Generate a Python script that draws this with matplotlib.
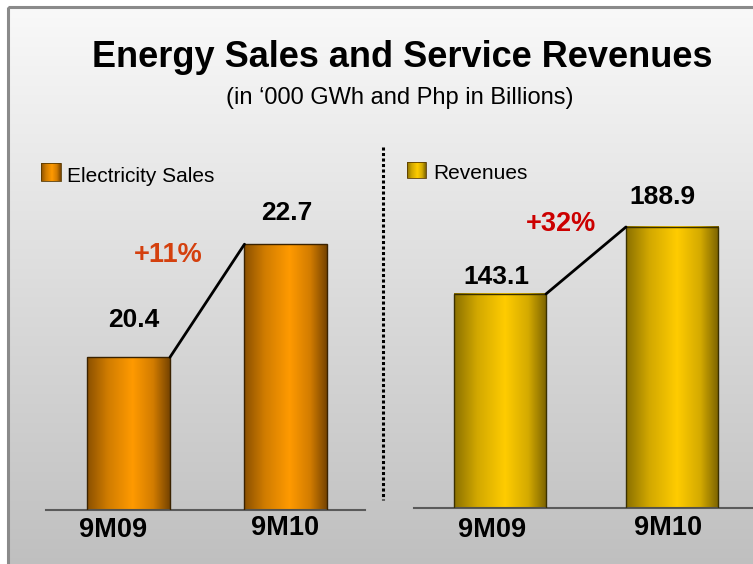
import numpy as np
import matplotlib
matplotlib.use("Agg")
import matplotlib.pyplot as plt
from matplotlib.colors import LinearSegmentedColormap
from matplotlib.patches import Rectangle
from matplotlib.lines import Line2D

plt.rcParams['font.family'] = ['Liberation Sans', 'DejaVu Sans']

# ---- data ----
categories = ["9M09", "9M10"]
sales = [20.4, 22.7]
revenues = [143.1, 188.9]
sales_growth = "+11%"
rev_growth = "+32%"
title = "Energy Sales and Service Revenues"
subtitle = "(in \u2018000 GWh and Php in Billions)"
sales_label = "Electricity Sales"
rev_label = "Revenues"

W, H = 753, 564
fig = plt.figure(figsize=(W / 100, H / 100), dpi=100)
fig.patch.set_facecolor("white")

def fx(px):
    return px / W

def fy(py):
    return 1 - py / H

# ---- background panel with vertical gradient ----
bg = fig.add_axes([0, 0, 1, 1], zorder=0)
bg.set_xlim(0, W)
bg.set_ylim(H, 0)
bg.axis("off")
grad = np.linspace(0, 1, 256).reshape(-1, 1)
bg_cmap = LinearSegmentedColormap.from_list("bg", ["#f9f9f9", "#dcdcdc", "#bfbfbf"])
bg.imshow(grad, cmap=bg_cmap, extent=(8, W + 5, H + 5, 7), aspect="auto", zorder=0)
bg.add_patch(Rectangle((8, 7), W, H, fill=False, edgecolor="#8a8a8a", lw=2.2, zorder=1))

orange_cmap = LinearSegmentedColormap.from_list(
    "or", [(0, "#8a5000"), (0.25, "#d07c00"), (0.55, "#ff9a00"), (0.8, "#d27c00"), (1, "#774400")])
gold_cmap = LinearSegmentedColormap.from_list(
    "go", [(0, "#8a7000"), (0.25, "#d2a800"), (0.55, "#ffcc00"), (0.8, "#d4aa00"), (1, "#7a6200")])
hgrad = np.linspace(0, 1, 256).reshape(1, -1)

def draw_panel(ax, values, cmap, width, ymin, edge):
    xs = np.arange(len(values))
    bars = ax.bar(xs, [v - ymin for v in values], bottom=ymin, width=width,
                  color="none", edgecolor=edge, lw=1.0, zorder=3)
    for b in bars:
        x0, y0 = b.get_x(), b.get_y()
        ax.imshow(hgrad, cmap=cmap, extent=(x0, x0 + b.get_width(), y0, y0 + b.get_height()),
                  aspect="auto", zorder=2)
    x1 = bars[0].get_x() + bars[0].get_width()
    x2 = bars[1].get_x()
    ax.add_line(Line2D([x1, x2], [values[0], values[1]], color="black", lw=2, zorder=4,
                       solid_capstyle="round"))
    for s in ["top", "right", "left"]:
        ax.spines[s].set_visible(False)
    ax.spines["bottom"].set_color("#5a5a5a")
    ax.spines["bottom"].set_linewidth(1.5)
    ax.set_yticks([])
    ax.set_xticks([])
    ax.patch.set_alpha(0)
    return bars

# ---- left panel ----
axL = fig.add_axes([fx(46), fy(510), fx(365 - 46), 360 / H], zorder=2)
yminL = 17.29
axL.set_ylim(yminL, yminL + 360 / 49.13)
axL.set_xlim(-0.524, 1.502)
draw_panel(axL, sales, orange_cmap, 0.527, yminL, "#3a2200")

# ---- right panel ----
axR = fig.add_axes([fx(414), fy(508), fx(753 - 414), 360 / H], zorder=2)
yminR = -3.2
axR.set_ylim(yminR, yminR + 360 / 1.4629)
axR.set_xlim(-0.5, 1.471)
draw_panel(axR, revenues, gold_cmap, 0.535, yminR, "#3a3000")

# value labels (pixel offsets from bar tops, baseline aligned)
def vlabel(ax, i, v, dx, dy):
    ax.annotate(f"{v:.1f}", (i, v), xytext=(dx, dy), textcoords="offset pixels",
                ha="center", va="baseline", fontsize=19, fontweight="bold")

vlabel(axL, 0, sales[0], 5.5, 30)
vlabel(axL, 1, sales[1], 1, 24)
vlabel(axR, 0, revenues[0], -4, 10)
vlabel(axR, 1, revenues[1], -10, 23)

# growth labels
fig.text(fx(168), fy(262), sales_growth, ha="center", va="baseline", fontsize=19.5,
         fontweight="bold", color="#d4400e")
fig.text(fx(561), fy(231), rev_growth, ha="center", va="baseline", fontsize=19.5,
         fontweight="bold", color="#cc0000")

# category labels
for ax, offs in [(axL, [(-15.5, -27), (-1, -25)]), (axR, [(-8, -29), (-4, -27)])]:
    for i, c in enumerate(categories):
        ax.annotate(c, (i, ax.get_ylim()[0]), xytext=offs[i], textcoords="offset pixels",
                    ha="center", va="baseline", fontsize=19.5, fontweight="bold")

# titles
fig.text(fx(402), fy(67), title, ha="center", va="baseline", fontsize=26, fontweight="bold")
fig.text(fx(400), fy(104), subtitle, ha="center", va="baseline", fontsize=17)

# legends
def swatch(x0, y0, w, h, cmap):
    bg.imshow(hgrad, cmap=cmap, extent=(x0, x0 + w, y0 + h, y0), aspect="auto", zorder=2)
    bg.add_patch(Rectangle((x0, y0), w, h, fill=False, edgecolor="#5a3a00", lw=0.6, zorder=3))

swatch(41, 163, 20, 18, orange_cmap)
fig.text(fx(67), fy(182), sales_label, ha="left", va="baseline", fontsize=15)
swatch(407, 162, 19, 16, gold_cmap)
fig.text(fx(433), fy(179), rev_label, ha="left", va="baseline", fontsize=15)

# dotted separator
bg.add_line(Line2D([383, 383], [147, 500], color="black", lw=2.2,
                   linestyle=(0, (1, 0.8)), zorder=2))

fig.savefig("out.png", dpi=100)
